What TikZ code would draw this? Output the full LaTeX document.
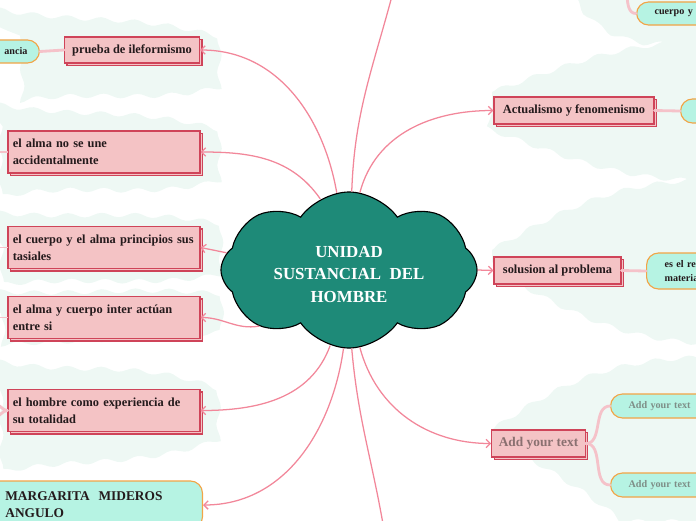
\documentclass[tikz,border=0pt]{standalone}
\usepackage{fontspec}
\setmainfont{Liberation Serif}
\usetikzlibrary{arrows.meta, calc, positioning, shapes.symbols, shadows, decorations.pathmorphing}
\definecolor{ink}{HTML}{241A1C}
\definecolor{band}{HTML}{EEF8F4}
\definecolor{teal}{HTML}{1E8A78}
\definecolor{rosefill}{HTML}{F4C3C5}
\definecolor{roseline}{HTML}{CF4459}
\definecolor{wire}{HTML}{F2879A}
\definecolor{twig}{HTML}{F5C2C9}
\definecolor{mint}{HTML}{B6F3E3}
\definecolor{amber}{HTML}{F2A446}
\definecolor{ghost}{HTML}{8A7070}
\definecolor{ghostmint}{HTML}{7E8E87}

\begin{document}
\begin{tikzpicture}[
    x=0.025cm, y=-0.025cm,
    font=\rmfamily,
    region/.style={
      fill=band,
      decorate,
      decoration={snake, amplitude=1.6pt, segment length=24pt},
    },
    wire/.style={
      draw=wire,
      line width=0.9pt,
      -{Straight Barb[length=3pt,width=6pt]},
    },
    twig/.style={
      draw=twig,
      line width=2pt,
      line cap=round,
    },
    topic/.style={
      draw=roseline,
      fill=rosefill,
      line width=0.8pt,
      inner xsep=0.175cm,
      inner ysep=3pt,
      font=\bfseries\fontsize{8.8}{12}\selectfont,
      text=ink,
      general shadow={shadow xshift=1.8pt, shadow yshift=-1.8pt,
        fill=rosefill, draw=roseline, line width=0.8pt},
    },
    wide/.style={
      topic,
      inner xsep=0.12cm,
      text width=4.56cm,
      minimum height=1.05cm,
      align=left,
    },
    leaf/.style={
      draw=amber,
      fill=mint,
      line width=0.8pt,
      rounded corners=0.3cm,
      inner xsep=0.3cm,
      font=\bfseries\fontsize{7.2}{9}\selectfont,
      text=ink,
    },
  ]

  \useasboundingbox (0,0) rectangle (696,520);
  \clip (0,0) rectangle (696,520);

  % Soft background regions
  \fill[region] (-10,8) to[out=-10,in=165] (206,34) -- (206,80) to[out=195,in=10] (-10,97) -- cycle;
  \fill[region] (-10,103) to[out=-10,in=165] (206,127) -- (206,180) to[out=195,in=10] (-10,196) -- cycle;
  \fill[region] (-10,212) to[out=-5,in=170] (206,222) -- (206,274) to[out=190,in=5] (-10,284) -- cycle;
  \fill[region] (-10,291) to[out=-3,in=175] (206,293) -- (206,340) to[out=185,in=3] (-10,352) -- cycle;
  \fill[region] (-10,360) to[out=-10,in=160] (206,386) -- (206,440) to[out=200,in=10] (-10,472) -- cycle;
  \fill[region] (570,-10) to[out=-60,in=170] (640,36) -- (710,38) -- (710,-10) -- cycle;
  \fill[region] (492,92) to[out=20,in=180] (710,44) -- (710,180) to[out=180,in=-20] (492,130) -- cycle;
  \fill[region] (492,250) to[out=30,in=180] (710,184) -- (710,354) to[out=180,in=-30] (492,290) -- cycle;
  \fill[region] (492,430) to[out=35,in=180] (710,362) -- (710,540) -- (610,540) to[out=140,in=-35] (492,460) -- cycle;

  % Centre
  \node[
    cloud,
    cloud puffs=8,
    cloud puff arc=110,
    aspect=1.75,
    draw=black,
    fill=teal,
    line width=0.8pt,
    minimum width=6.4cm,
    minimum height=3.9cm,
    align=center,
    text=white,
    font=\bfseries\fontsize{12}{16}\selectfont,
    inner sep=0pt,
  ] (core) at (349,270) {\\[-2pt]UNIDAD\\SUSTANCIAL\ \ DEL\\HOMBRE};

  % Left topics
  \node[topic, minimum width=3.375cm, minimum height=0.65cm] (proof) at (132,50) {prueba de ileformismo};
  \node[wide] (union) at (104,152) {el alma no se une\\accidentalmente};
  \node[wide] (principles) at (104,247.5) {el cuerpo y el alma principios sus\\tasiales};
  \node[wide] (interact) at (104,317.5) {el alma y cuerpo inter actúan\\entre si};
  \node[wide] (whole) at (104,410.5) {el hombre como experiencia de\\su totalidad};

  % Right topics
  \node[topic, minimum width=4cm, minimum height=0.675cm] (actual) at (574,110.5) {Actualismo y fenomenismo};
  \node[topic, minimum width=3.175cm, minimum height=0.675cm] (answer) at (557.5,270.5) {solusion al problema};
  \node[topic, minimum width=2.225cm, minimum height=0.675cm, text=ghost, font=\bfseries\fontsize{9.5}{12}\selectfont] (extra) at (538.5,443.5) {Add your text};

  % Leaves
  \node[leaf, anchor=east, minimum width=2cm, minimum height=0.575cm, text width=1.4cm, align=right] (subst) at (40,51.5) {ancia};
  \node[leaf, anchor=west, minimum width=2.5cm, minimum height=0.575cm, inner xsep=0.45cm, text width=1.7cm, align=left] (bodysoul) at (636,13.5) {cuerpo y a};
  \node[leaf, anchor=west, minimum width=2cm, minimum height=0.6cm] (actleaf) at (680,111) {};
  \node[leaf, anchor=west, minimum width=2.5cm, minimum height=0.9cm, inner xsep=0.45cm, text width=1.7cm, align=left, font=\bfseries\fontsize{7.2}{10}\selectfont] (result) at (646,271) {es el res\\materia};
  \node[leaf, anchor=west, minimum width=2.6cm, minimum height=0.6cm, inner xsep=0.4cm, text width=1.7cm, align=left, text=ghostmint] (extraA) at (610,406) {Add your text};
  \node[leaf, anchor=west, minimum width=2.6cm, minimum height=0.6cm, inner xsep=0.4cm, text width=1.7cm, align=left, text=ghostmint] (extraB) at (610,485) {Add your text};
  \node[leaf, anchor=east, minimum width=5.6cm, minimum height=1.2cm, inner xsep=0.675cm, text width=4.25cm, align=left, font=\bfseries\fontsize{9.5}{12}\selectfont] (author) at (203,505) {MARGARITA\ \ MIDEROS\\ANGULO};

  % Free ends
  \coordinate (up) at (392,-4);
  \coordinate (down) at (383,524);
  \coordinate (twigtop) at (627,-4);

  % Main connectors
  \draw[wire] (core.99) to[out=100, in=0] (proof.east);
  \draw[wire] (core.112) to[out=125, in=0] (union.east);
  \draw[wire] (core.172) -- (principles.east);
  \draw[wire] (core.212) to[out=190, in=0] (interact.east);
  \draw[wire] (core.256) to[out=250, in=0] (whole.east);
  \draw[wire] (core.266) to[out=262, in=0] (author.east);
  \draw[wire, -] (core.88) to[out=88, in=255] (up);
  \draw[wire] (core.82) to[out=75, in=180] (actual.west);
  \draw[wire] (core.0) -- (answer.west);
  \draw[wire] (core.278) to[out=285, in=180] (extra.west);
  \draw[wire, -] (core.272) to[out=275, in=100] (down);

  % Leaf branches
  \draw[twig] (proof.west) -- (subst.east);
  \draw[twig] (twigtop) to[out=-85, in=180] (bodysoul.west);
  \draw[twig] (actual.east) -- (actleaf.west);
  \draw[twig] (answer.east) -- (result.west);
  \draw[twig] (extra.east) to[out=0, in=180] (extraA.west);
  \draw[twig] (extra.east) to[out=0, in=180] (extraB.west);
  \draw[twig, line width=1pt] (union.west) -- ++(-12,0);
  \draw[twig, line width=1pt] (principles.west) -- ++(-12,0);
  \draw[twig, line width=1pt] (interact.west) -- ++(-12,0);
  \draw[twig] (whole.west) to[out=180, in=0] ++(-12,-6);
  \draw[twig] (whole.west) to[out=180, in=0] ++(-12,6);

\end{tikzpicture}
\end{document}
